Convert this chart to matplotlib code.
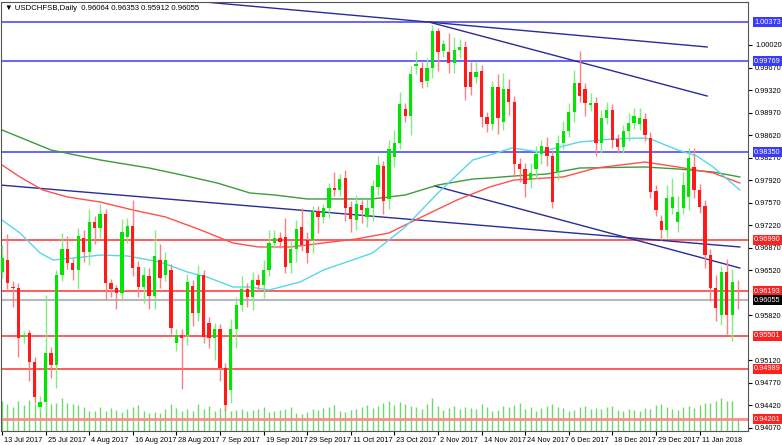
import matplotlib
matplotlib.use("Agg")
import matplotlib.pyplot as plt
import matplotlib.transforms as mtrans
import numpy as np

plt.rcParams["font.family"] = "Liberation Sans"

opens = [.96492,.96679,.96259,.96244,.95482,.95544,.95094,.94394,.94472,.95233,
         .95047,.96446,.96850,.96632,.96523,.97021,.96803,.97269,.97176,.97393,
         .96321,.96244,.96166,.97036,.97207,.96570,.96259,.96430,.96119,.96679,
         .96446,.96523,.95389,.95513,.95513,.96275,.95855,.96446,.95700,.95467,
         .95606,.95000,.94658,.95606,.95979,.96228,.96104,.96368,.96290,.96523,
         .96943,.97021,.97036,.96632,.96850,.97191,.96989,.96989,.97440,.97347,
         .97487,.97798,.97766,.97953,.97502,.97300,.97533,.97347,.97487,.97813,
         .98139,.97627,.98279,.98497,.99025,.98916,.99693,.99662,.99460,.99662,
         1.00237,.99926,.99911,.99740,.99942,.99989,.99600,.99522,.99616,.98901,
         .98792,.99367,.98823,.99336,.99134,.98170,.98093,.97922,.98093,.98326,
         .98435,.98295,.98046,.98497,.98683,.98979,.99429,.99336,.99087,.99118,
         .98497,.98885,.99010,.98559,.98435,.98683,.98808,.98792,.98870,.98575,
         .97751,.97285,.97145,.97487,.97269,.97487,.97658,.98124,.97766,.97518,
         .96756,.96244,.95824,.96492,.95824,.96064]
closes = [.96710,.96321,.96244,.95467,.95513,.95094,.94550,.94472,.95233,.95047,
          .96446,.96850,.96632,.96523,.97052,.96803,.97269,.97176,.97393,.96321,
          .96228,.96166,.97114,.97207,.96554,.96259,.96446,.96119,.96741,.96399,
          .96679,.95622,.95513,.95467,.96337,.95855,.96446,.95482,.95467,.95606,
          .95000,.94425,.95606,.95979,.96228,.96104,.96368,.96290,.96523,.96943,
          .97021,.96958,.96570,.96850,.97160,.96912,.96787,.97425,.97347,.97487,
          .97798,.97766,.97937,.97487,.97316,.97549,.97456,.97487,.97829,.98155,
          .97596,.98404,.98497,.99103,.98916,.99569,.99724,.99445,.99662,1.00237,
          .99911,1.00035,.99740,.99942,.99989,.99367,.99367,.99600,.98901,.98792,
          .99367,.98885,.99336,.99134,.98170,.98093,.97860,.98031,.98326,.98450,
          .98295,.97580,.98497,.98683,.98979,.99429,.99227,.99118,.99118,.98497,
          .98885,.99010,.98543,.98435,.98683,.98808,.98916,.98885,.98621,.97735,
          .97456,.97145,.97642,.97658,.97425,.97844,.98264,.97766,.97502,.96756,
          .96244,.95933,.96492,.95824,.96337,.96055]
# wick lengths in units of 0.0001
up_wick = [20,40,10,8,6,5,8,10,90,10,8,25,20,8,12,12,20,10,15,8,
           6,5,20,12,40,10,12,12,40,25,12,10,10,10,12,10,15,8,10,10,
           8,8,15,12,20,10,12,10,15,20,12,10,30,12,14,30,12,10,8,6,
           8,25,8,12,10,14,8,14,10,14,8,14,20,18,10,12,20,10,15,10,
           5,6,30,20,12,10,15,15,10,8,10,20,25,15,10,10,10,15,12,10,
           15,10,12,15,14,20,50,10,15,10,12,12,10,8,10,15,12,15,10,10,
           10,10,20,30,25,20,15,30,10,10,10,20,10,20,20,30]
dn_wick = [10,10,30,30,10,30,10,8,15,20,35,10,10,15,30,15,20,25,15,25,
           12,25,12,10,12,15,25,20,20,15,10,10,12,80,15,20,12,10,15,35,
           20,10,20,30,10,15,20,10,20,10,8,10,10,15,20,10,15,20,25,10,
           15,10,10,20,20,15,20,15,20,12,20,15,15,10,10,30,12,10,10,15,
           30,10,15,15,12,20,12,10,15,12,10,25,12,20,20,20,20,12,15,15,
           15,10,12,10,10,15,10,20,10,20,15,10,12,10,10,15,10,10,10,10,
           10,15,12,10,15,10,20,12,10,20,20,20,15,30,40,14]
volumes = [30,27,24,30,26,31,27,25,28,27,28,33,28,27,26,24,20,20,24,20,
           23,21,19,22,24,26,20,18,19,18,22,27,23,20,22,20,27,22,25,20,
           23,29,20,21,22,20,21,22,24,19,20,21,22,24,18,17,19,22,21,23,
           24,26,20,19,21,22,24,26,23,25,28,30,26,29,27,25,24,22,27,33,
           25,21,23,25,22,24,23,22,27,24,20,21,25,24,26,28,22,24,20,23,
           25,27,24,23,20,21,24,25,22,23,22,24,25,21,20,22,21,20,23,22,
           26,27,24,22,21,24,25,23,26,28,28,30,33,30,30,12]

ma_cyan_idx = [0,3.3,7,9.4,15,18,23,29,34,37.6,42.4,45.5,49,54.7,59,68,74,80,86.4,89.5,93.6,98.7,106,112,118,119.5,124,127.5,130.5,135.4]
ma_cyan = [.97300,.97098,.96787,.96679,.96725,.96756,.96741,.96648,.96492,.96414,.96259,.96259,.96212,.96337,.96523,.96787,.97191,.97720,.98233,.98310,.98419,.98357,.98512,.98559,.98575,.98543,.98388,.98295,.98124,.97766]
ma_red_idx = [0,3.3,7.5,12,18,24,30,36,42.4,47,53,59,65,71,77,83.5,89.5,94,103,109,118,124,130.5,135.4]
ma_red = [.98155,.97969,.97766,.97658,.97580,.97456,.97347,.97160,.96943,.96881,.96881,.96943,.97005,.97098,.97347,.97611,.97813,.97922,.97969,.98108,.98201,.98124,.98031,.97875]
ma_green_idx = [0,9,18,27,33,39.5,45.5,50,56,68,74,80,86.4,89.5,94,100,106,118,124,130.5,135.4]
ma_green = [.98699,.98388,.98233,.98108,.98000,.97875,.97720,.97689,.97627,.97627,.97689,.97844,.97937,.97953,.97984,.98015,.98108,.98124,.98093,.98046,.97969]

trend_lines = [((37.2, 1.00688), (129.4, .99989)),
               ((78.5, 1.00373), (129.4, .99227)),
               ((-0.4, .97844), (135.4, .96881)),
               ((79.4, .97829), (135.4, .96554))]
blue_levels = [1.00373, .99769, .98350]
red_levels = [.96990, .96193, .95501, .94989, .94201]
current = .96055
yticks = [1.00020,.99670,.99320,.98970,.98620,.98270,.97920,.97570,.97220,.96870,.96520,.95820,.95120,.94770,.94420,.94070]
date_labels = ["13 Jul 2017","25 Jul 2017","4 Aug 2017","16 Aug 2017","28 Aug 2017","7 Sep 2017",
               "19 Sep 2017","29 Sep 2017","11 Oct 2017","23 Oct 2017","2 Nov 2017","14 Nov 2017",
               "24 Nov 2017","6 Dec 2017","18 Dec 2017","29 Dec 2017","11 Jan 2018"]

FS = 5.3
W, H = 782, 445
fig = plt.figure(figsize=(W/100, H/100), dpi=100)
ax = fig.add_axes([1/W, (H-431)/H, 747/W, 429/H])
ax.set_xlim(-0.18, 136.9)
ax.set_ylim(0.94021, 1.00688)

vax = fig.add_axes(ax.get_position(), sharex=ax)
vax.set_ylim(0, 429)
vax.axis("off")
vax.vlines(np.arange(len(volumes)), 0, volumes, color="#6fd96f", lw=1)
vax.set_zorder(0); ax.set_zorder(1); ax.patch.set_alpha(0)

for y in blue_levels:
    ax.axhline(y, color="#4b4bff", lw=1.2)
for y in red_levels[:-1]:
    ax.axhline(y, color="#ff3030", lw=1.1)
ax.axhline(red_levels[-1], color="#ff8a8a", lw=2)
ax.axhline(current, color="#b8b8b8", lw=1.5)

for (x0, y0), (x1, y1) in trend_lines:
    ax.plot([x0, x1], [y0, y1], color="#2a2a9a", lw=1)

ax.plot(ma_green_idx, ma_green, color="#3d9a3d", lw=1)
ax.plot(ma_red_idx, ma_red, color="#ff5050", lw=1)
ax.plot(ma_cyan_idx, ma_cyan, color="#55d8e8", lw=1)

for i, (o, c) in enumerate(zip(opens, closes)):
    col = "#00e600" if c >= o else "#ff1a1a"
    wcol = "#80ee80" if c >= o else "#ff8080"
    hi = max(o, c) + up_wick[i] * 1e-4
    lo = min(o, c) - dn_wick[i] * 1e-4
    ax.vlines(i, lo, hi, color=wcol, lw=1, zorder=3)
    b = max(abs(c - o), 0.00008)
    ax.bar(i, b, bottom=min(o, c), width=0.6, color=col, zorder=4, lw=0)

ax.yaxis.tick_right()
ax.set_yticks(yticks)
ax.set_yticklabels([f"{v:.5f}" for v in yticks], fontsize=FS)
ax.tick_params(axis="y", length=3, pad=2)
ax.set_xticks(np.arange(0, 129, 8))
ax.set_xticklabels(date_labels, fontsize=FS, ha="left")
ax.tick_params(axis="x", length=3, pad=1)
off = mtrans.ScaledTranslation(2/100, 0, fig.dpi_scale_trans)
for lab in ax.get_xticklabels():
    lab.set_transform(lab.get_transform() + off)
for s in ax.spines.values():
    s.set_color("#555555"); s.set_linewidth(0.8)

def tag(y, bg):
    ax.text(1.008, y, f"{y:.5f}", transform=ax.get_yaxis_transform(), fontsize=FS,
            color="white", va="center", ha="left",
            bbox=dict(boxstyle="square,pad=0.2", fc=bg, ec="none"), zorder=10, clip_on=False)
for y in blue_levels:
    tag(y, "#3a3aff")
for y in red_levels:
    tag(y, "#ff2020")
tag(current, "black")

fig.text(5/W, 1 - 8/H, "\u25BC USDCHFSB,Daily  0.96064 0.96353 0.95912 0.96055",
         fontsize=FS + 0.3, va="center", ha="left")
fig.savefig("out.png", dpi=100)
